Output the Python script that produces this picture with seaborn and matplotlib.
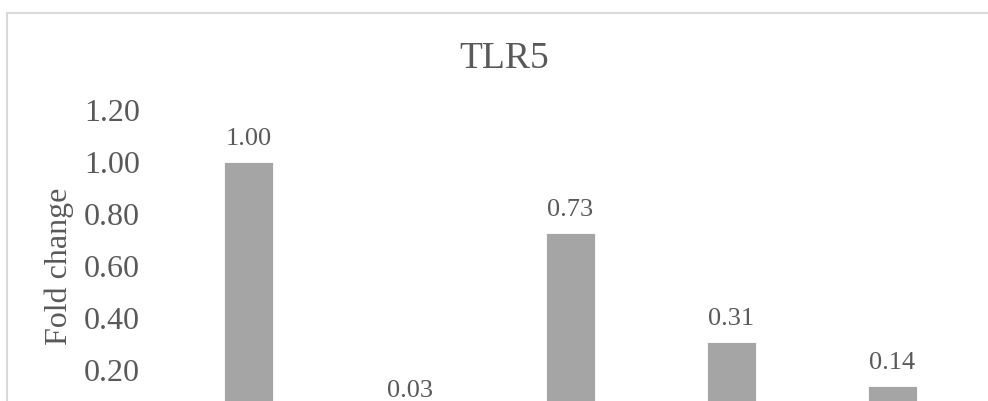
import numpy as np
import pandas as pd
import matplotlib
matplotlib.use('Agg')
import matplotlib.pyplot as plt
import matplotlib.patches as patches
import seaborn as sns

TEXT_COLOR = '#595959'
BAR_COLOR = '#A5A5A5'

categories = ['Group 1', 'Group 2', 'Group 3', 'Group 4', 'Group 5']
fold_change = [1.00, 0.03, 0.73, 0.31, 0.14]
ytick_values = [0.2, 0.4, 0.6, 0.8, 1.0, 1.2]

sns.set_style('white')
plt.rcParams['font.family'] = ['Liberation Serif', 'DejaVu Serif']

df = pd.DataFrame({'group': categories, 'fold': fold_change})

W, H = 988, 401
fig = plt.figure(figsize=(W / 100, H / 100), dpi=100)
# plot area in pixels: left 168, right 973, top 110.5 (y=1.2), zero line at 422 (below the crop)
ax = fig.add_axes([168 / W, 1 - 422 / H, 805 / W, (422 - 110.5) / H])

sns.barplot(data=df, x='group', y='fold', color=BAR_COLOR, width=0.31,
            saturation=1, ax=ax, edgecolor='white', linewidth=0.6)

ax.set_ylim(0, 1.2)
ax.set_xlim(-0.5, len(categories) - 0.5)
ax.set_yticks(ytick_values)
ax.set_yticklabels(['%.2f' % v for v in ytick_values])
ax.tick_params(axis='y', length=0, pad=20, labelsize=23, labelcolor=TEXT_COLOR)
# category labels sit below the cropped edge of the original picture
ax.tick_params(axis='x', length=0, labelbottom=False)
ax.set_xlabel('')
ax.set_ylabel('')
for s in ax.spines.values():
    s.set_visible(False)
ax.grid(False)

for i, v in enumerate(fold_change):
    ax.annotate('%.2f' % v, xy=(i, v), xytext=(0, 12.2), textcoords='offset points',
                ha='center', va='baseline', fontsize=19, color=TEXT_COLOR)

fig.text(504 / W, 1 - 68 / H, 'TLR5', ha='center', va='baseline',
         fontsize=27, color=TEXT_COLOR)
fig.text(59 / W, 1 - 266 / H, 'Fold change', rotation=90, ha='center', va='center',
         fontsize=23, color=TEXT_COLOR)

# chart border (cropped on the right and bottom)
frame = patches.Rectangle((7 / W, -0.1), 1.1, 1 - 13 / H + 0.1, transform=fig.transFigure,
                          fill=False, edgecolor='#D9D9D9', linewidth=1.5, clip_on=False)
fig.patches.append(frame)

fig.savefig('out.png', dpi=100)
